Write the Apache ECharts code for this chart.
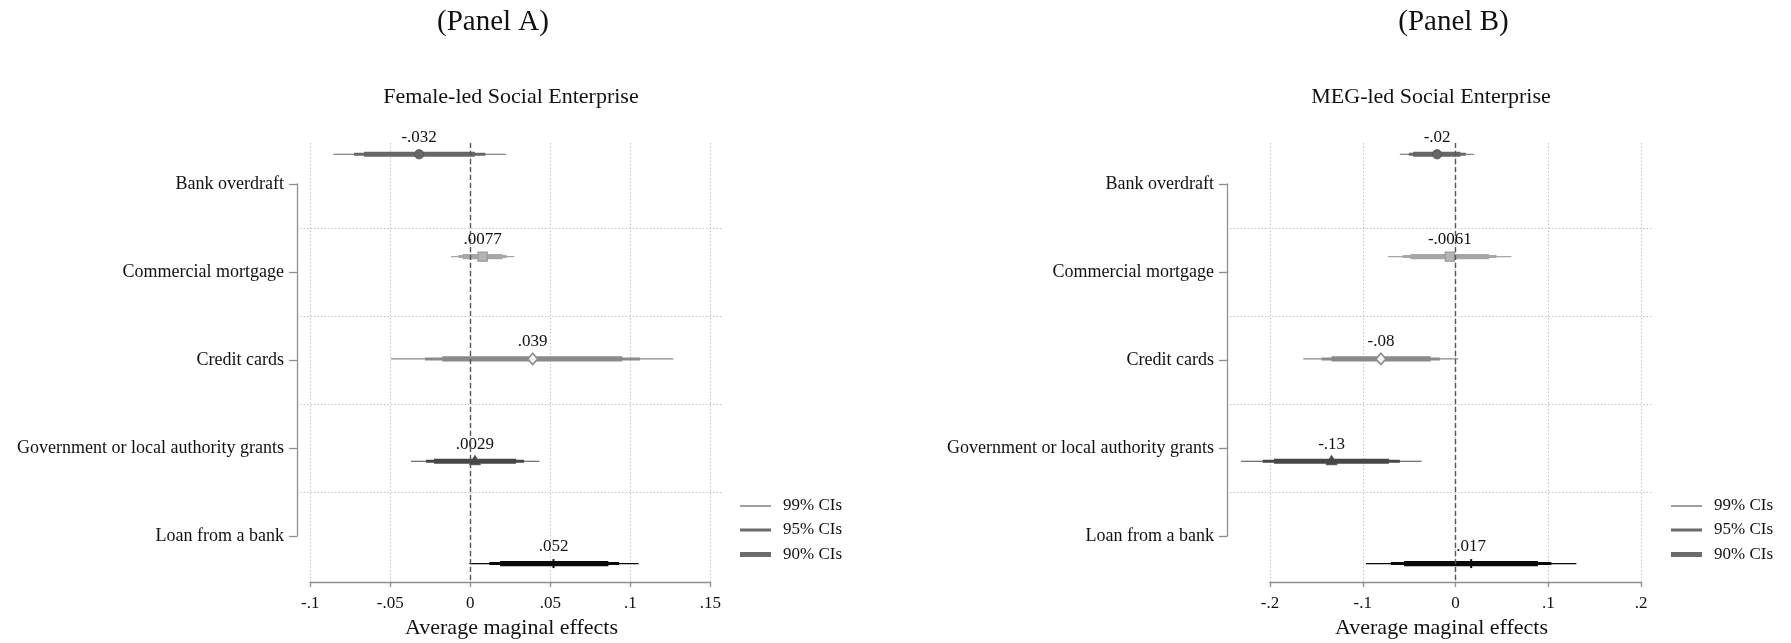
<!DOCTYPE html>
<html>
<head>
<meta charset="utf-8">
<script src="https://cdn.jsdelivr.net/npm/echarts@6/dist/echarts.min.js"></script>
<style>
  html, body { margin: 0; padding: 0; background: #fff; }
  #chart { width: 1791px; height: 643px; }
</style>
</head>
<body>
<div id="chart"></div>
<script>
// Funding sources (one row per source, top to bottom)
const categories = [
  'Bank overdraft',
  'Commercial mortgage',
  'Credit cards',
  'Government or local authority grants',
  'Loan from a bank'
];
const rowIndex = [1, 2, 3, 4, 5];

// Panel A: female-led social enterprise (average marginal effects and CIs)
const femaleEst  = [-0.032, 0.0077, 0.039, 0.0029, 0.052];
const femaleLo99 = [-0.0856, -0.0121, -0.0496, -0.0371, -0.0006];
const femaleHi99 = [0.0223, 0.0275, 0.1269, 0.0431, 0.1052];
const femaleLo95 = [-0.0727, -0.0075, -0.0283, -0.0277, 0.0119];
const femaleHi95 = [0.0094, 0.0227, 0.1060, 0.0336, 0.0930];
const femaleLo90 = [-0.0664, -0.0047, -0.0175, -0.0227, 0.0186];
const femaleHi90 = [0.0029, 0.0202, 0.0950, 0.0286, 0.0863];

// Panel B: MEG-led social enterprise
const megEst  = [-0.0198, -0.0061, -0.0804, -0.1336, 0.0169];
const megLo99 = [-0.0600, -0.0726, -0.1642, -0.2313, -0.0966];
const megHi99 = [0.0200, 0.0603, 0.0028, -0.0366, 0.1303];
const megLo95 = [-0.0503, -0.0571, -0.1444, -0.2079, -0.0697];
const megHi95 = [0.0111, 0.0442, -0.0169, -0.0600, 0.1034];
const megLo90 = [-0.0457, -0.0485, -0.1336, -0.1957, -0.0554];
const megHi90 = [0.0054, 0.0362, -0.0269, -0.0718, 0.0890];

// x-axis ticks
const xTicksA = { min: -0.1, max: 0.15, step: 0.05 };
const xTicksB = { min: -0.2, max: 0.2, step: 0.1 };

const legendNames = ['99% CIs', '95% CIs', '90% CIs'];

const FONT = '"Liberation Serif", "Times New Roman", serif';
const INK = '#111';

// per-row look: colour and marker
const rowStyles = [
  { color: '#676767', marker: 'circle' },
  { color: '#a7a7a7', marker: 'square' },
  { color: '#8a8a8a', marker: 'diamond' },
  { color: '#474747', marker: 'triangle' },
  { color: '#0a0a0a', marker: 'tick' }
];

// Stata-like number format: two significant digits, no leading zero
function sig2(v) {
  const s = String(parseFloat(v.toPrecision(2)));
  return s.replace(/^(-?)0\./, '$1.');
}
function tickFmt(v) {
  const s = String(parseFloat(Number(v).toFixed(4)));
  return s.replace(/^(-?)0\./, '$1.');
}

function buildRows(est, lo99, hi99, lo95, hi95, lo90, hi90) {
  return rowIndex.map((r, i) => [r, est[i], lo99[i], hi99[i], lo95[i], hi95[i], lo90[i], hi90[i]]);
}

function markerShape(kind, p, color) {
  const cx = p[0], cy = p[1];
  if (kind === 'circle') {
    return { type: 'circle', shape: { cx, cy, r: 4.6 }, style: { fill: color, stroke: '#555', lineWidth: 1 } };
  }
  if (kind === 'square') {
    return { type: 'rect', shape: { x: cx - 4.6, y: cy - 4.6, width: 9.2, height: 9.2 }, style: { fill: '#b4b4b4', stroke: '#999', lineWidth: 1.2 } };
  }
  if (kind === 'diamond') {
    return { type: 'polygon', shape: { points: [[cx, cy - 5.6], [cx + 5, cy], [cx, cy + 5.6], [cx - 5, cy]] }, style: { fill: '#f2f2f2', stroke: color, lineWidth: 1.6 } };
  }
  if (kind === 'triangle') {
    return { type: 'polygon', shape: { points: [[cx, cy - 6], [cx + 5.5, cy + 3.5], [cx - 5.5, cy + 3.5]] }, style: { fill: color, stroke: color, lineWidth: 0.8 } };
  }
  return { type: 'line', shape: { x1: cx, y1: cy - 4.5, x2: cx, y2: cy + 4.5 }, style: { stroke: color, lineWidth: 2 } };
}

function renderCoef(params, api) {
  const i = params.dataIndex;
  const st = rowStyles[i];
  const row = api.value(0);
  const at = (v) => api.coord([v, row]);
  const seg = (lo, hi, w) => {
    const a = at(lo), b = at(hi);
    return { type: 'line', shape: { x1: a[0], y1: a[1], x2: b[0], y2: b[1] },
             style: { stroke: st.color, lineWidth: w, lineCap: 'butt' } };
  };
  const est = api.value(1);
  const p = at(est);
  return {
    type: 'group',
    children: [
      seg(api.value(2), api.value(3), 1.2),
      seg(api.value(4), api.value(5), 3),
      seg(api.value(6), api.value(7), 5.2),
      markerShape(st.marker, p, st.color),
      { type: 'text', style: {
          text: sig2(est), x: p[0], y: p[1] - 17,
          align: 'center', verticalAlign: 'middle', textAlign: 'center', textVerticalAlign: 'middle',
          font: '17px ' + FONT, fill: INK } }
    ]
  };
}

const dotted = { color: '#c4c4c4', width: 1, type: [1.5, 2] };
const axisGray = '#8e8e8e';

function panelAxes(gl, gg, gd, ticks) {
  const x = [
    { gridIndex: gl, type: 'value', show: false },
    { gridIndex: gg, type: 'value', min: 0, max: 1, show: true,
      axisLine: { show: false }, axisTick: { show: false }, axisLabel: { show: false }, splitLine: { show: false },
      name: 'Average maginal effects', nameLocation: 'middle', nameGap: 37, nameMoveOverlap: false,
      nameTextStyle: { fontFamily: FONT, fontSize: 22, color: INK } },
    { gridIndex: gd, type: 'value', min: ticks.min, max: ticks.max, interval: ticks.step,
      axisLine: { show: true, onZero: false, lineStyle: { color: axisGray, width: 1.3 } },
      axisTick: { show: true, length: 5, lineStyle: { color: axisGray, width: 1.3 } },
      axisLabel: { show: true, margin: 13, fontFamily: FONT, fontSize: 17, color: INK,
                   formatter: tickFmt, showMinLabel: true, showMaxLabel: true },
      splitLine: { show: true, lineStyle: dotted } }
  ];
  const y = [
    { gridIndex: gl, type: 'category', data: categories, inverse: true, boundaryGap: false,
      axisLine: { show: true, lineStyle: { color: axisGray, width: 1.3 } },
      axisTick: { show: true, length: 8, lineStyle: { color: axisGray, width: 1.3 } },
      axisLabel: { show: true, interval: 0, margin: 13, fontFamily: FONT, fontSize: 18, color: INK },
      splitLine: { show: false } },
    { gridIndex: gg, type: 'value', min: 0, max: 5, interval: 1, inverse: true,
      axisLine: { show: false }, axisTick: { show: false }, axisLabel: { show: false },
      splitLine: { show: true, showMinLine: false, showMaxLine: false, lineStyle: dotted } },
    { gridIndex: gd, type: 'value', min: 0.89, max: 5.18, inverse: true, show: false }
  ];
  return { x, y };
}

const axA = panelAxes(0, 1, 2, xTicksA);
const axB = panelAxes(3, 4, 5, xTicksB);

function grid(left, top, width, height) {
  return { left, top, width, height, containLabel: false, outerBoundsMode: 'none' };
}

function zeroLine(xi, yi) {
  return {
    type: 'line', xAxisIndex: xi, yAxisIndex: yi, data: [], z: 5, silent: true,
    markLine: {
      silent: true, symbol: ['none', 'none'], label: { show: false },
      lineStyle: { color: '#555', width: 1.4, type: [5, 3] },
      data: [{ xAxis: 0 }], animation: false
    }
  };
}

const legendWidths = [1.3, 3, 5];
const legendRowsY = [506, 530, 554.5];
function legendsAt(left) {
  return legendNames.map((name, k) => ({
    data: [name], left: left, top: legendRowsY[k] - 10, padding: 0,
    icon: 'rect', itemWidth: 31, itemHeight: legendWidths[k], selectedMode: false,
    textStyle: { fontFamily: FONT, fontSize: 17, color: INK, lineHeight: 20, padding: [0, 0, 0, 7] }
  }));
}

function headText(text, x, y, size) {
  return { type: 'text', x: x, y: y, silent: true,
           style: { text, font: size + 'px ' + FONT, fill: INK,
                    align: 'center', verticalAlign: 'middle', textAlign: 'center', textVerticalAlign: 'middle' } };
}

const chart = echarts.init(document.getElementById('chart'), null, { renderer: 'canvas' });
chart.setOption({
  animation: false,
  backgroundColor: '#fff',
  grid: [
    grid(297, 184, 426, 352), grid(300, 140, 423, 440), grid(310.3, 143, 400, 439),
    grid(1227, 184, 426, 352), grid(1230, 140, 423, 440), grid(1270, 143, 371, 439)
  ],
  xAxis: axA.x.concat(axB.x),
  yAxis: axA.y.concat(axB.y),
  legend: legendsAt(740).concat(legendsAt(1671)),
  graphic: [
    headText('(Panel A)', 493, 22, 29),
    headText('(Panel B)', 1453.5, 22, 29),
    headText('Female-led Social Enterprise', 511, 97.5, 22),
    headText('MEG-led Social Enterprise', 1431, 97.5, 22)
  ],
  series: [
    { type: 'custom', name: 'Female-led', xAxisIndex: 2, yAxisIndex: 2, clip: false, z: 3,
      renderItem: renderCoef,
      data: buildRows(femaleEst, femaleLo99, femaleHi99, femaleLo95, femaleHi95, femaleLo90, femaleHi90) },
    { type: 'custom', name: 'MEG-led', xAxisIndex: 5, yAxisIndex: 5, clip: false, z: 3,
      renderItem: renderCoef,
      data: buildRows(megEst, megLo99, megHi99, megLo95, megHi95, megLo90, megHi90) },
    zeroLine(2, 2),
    zeroLine(5, 5)
  ].concat(legendNames.map((name) => ({
    type: 'line', name: name, xAxisIndex: 2, yAxisIndex: 2, data: [],
    itemStyle: { color: '#6b6b6b' }, lineStyle: { color: '#6b6b6b' }
  })))
});
</script>
</body>
</html>
